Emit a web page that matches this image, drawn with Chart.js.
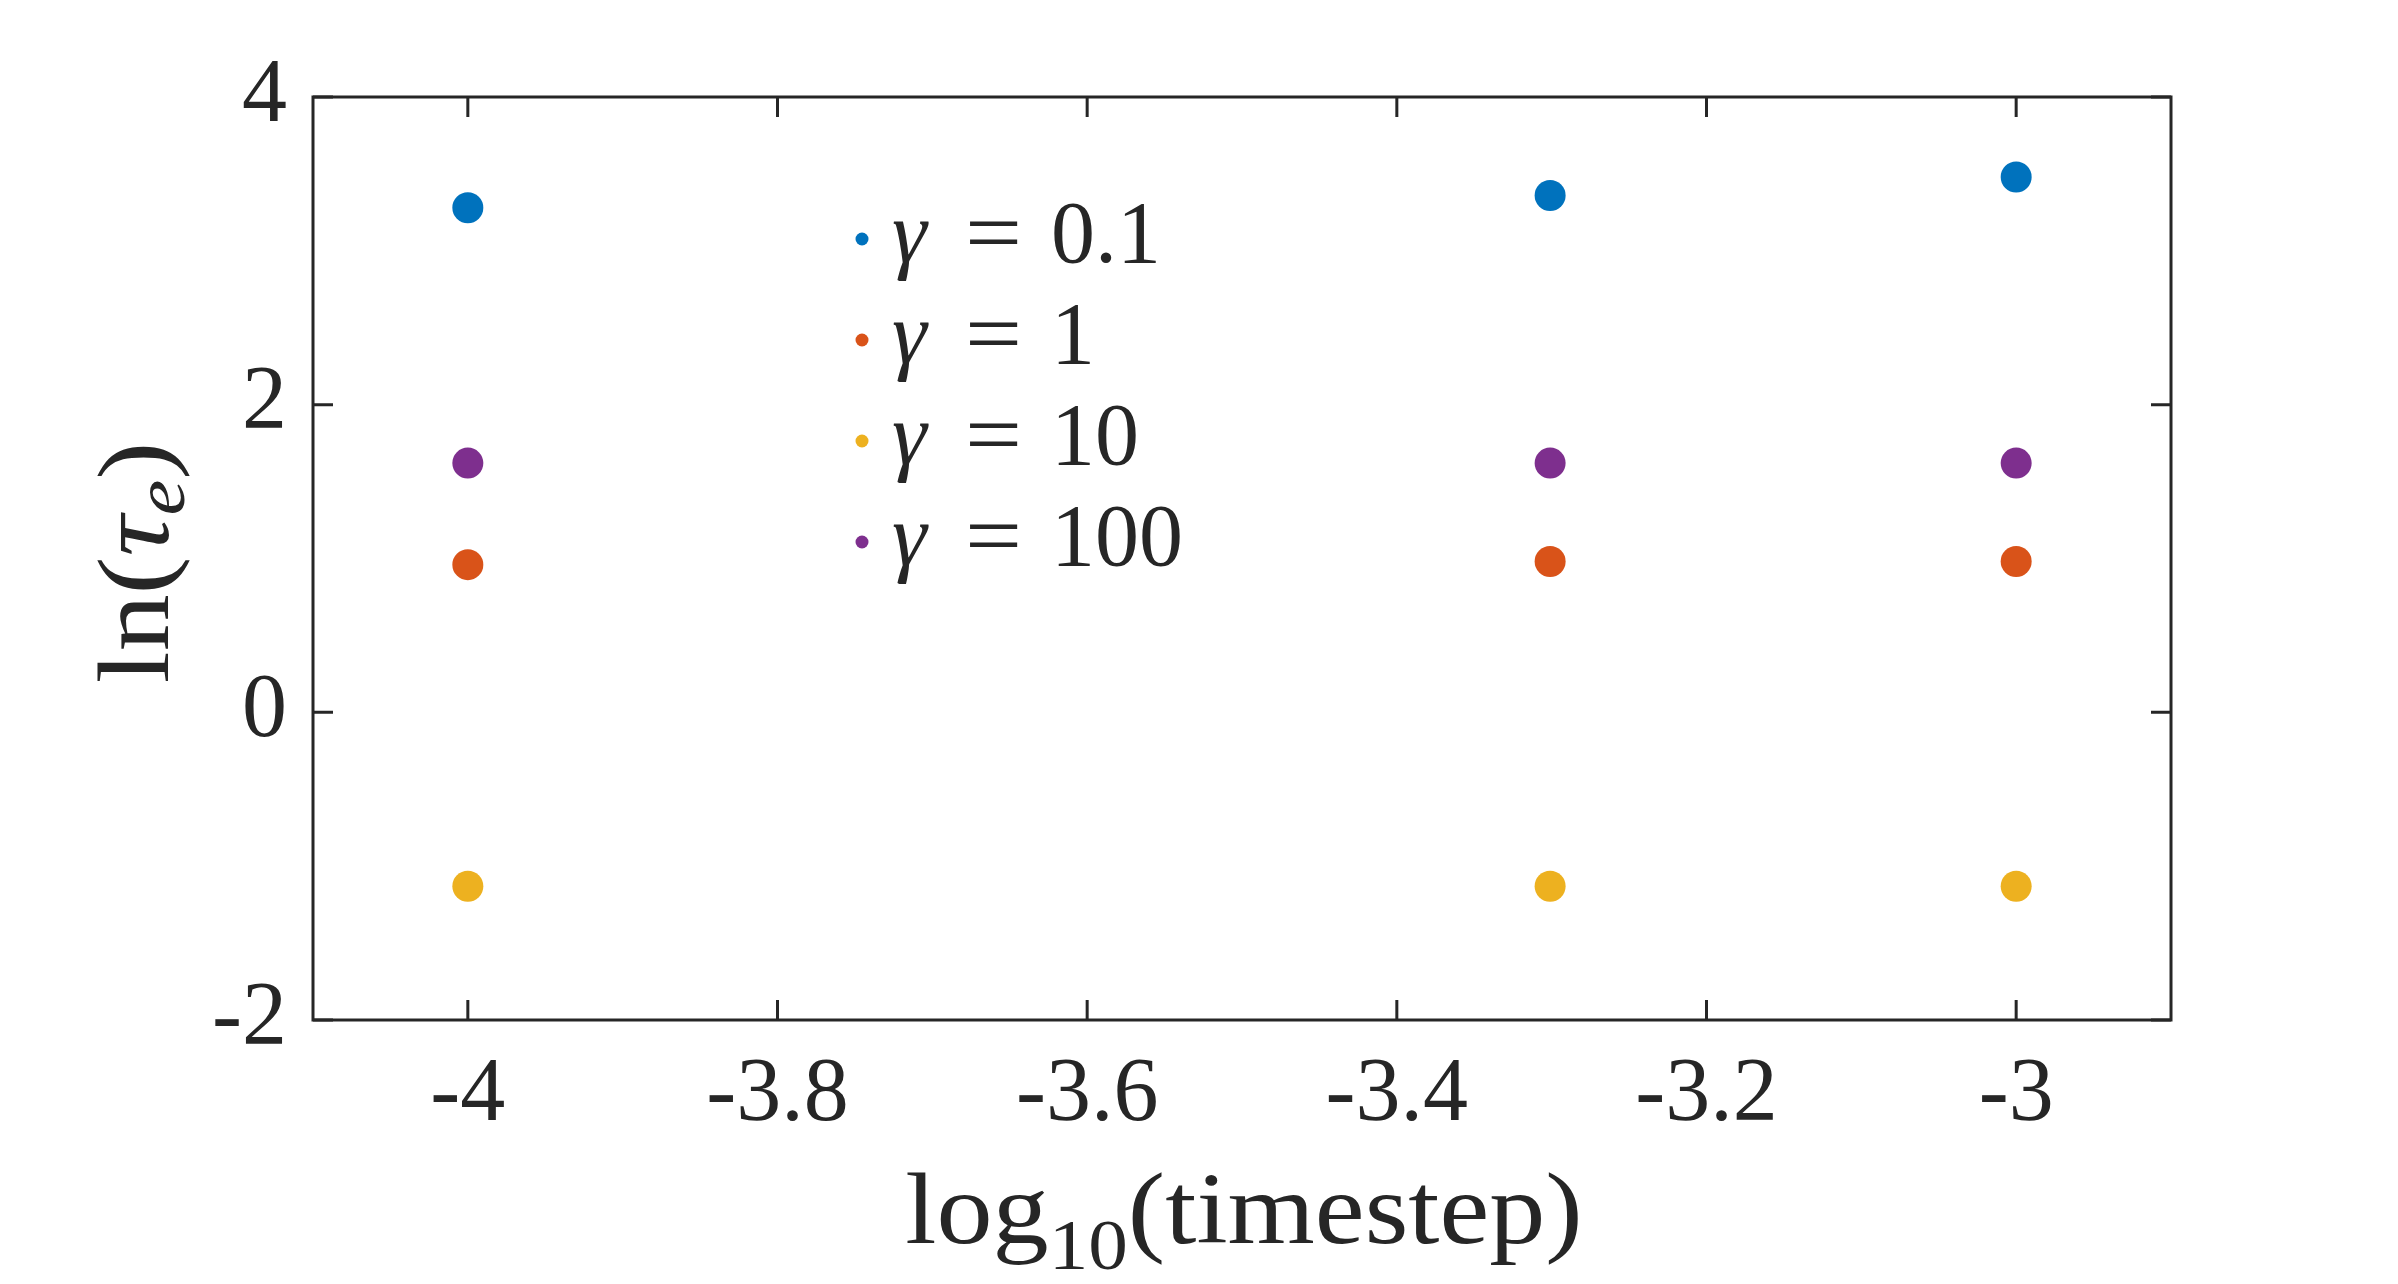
<!DOCTYPE html>
<html>
<head>
<meta charset="utf-8">
<script src="https://cdn.jsdelivr.net/npm/chart.js@4.4.1/dist/chart.umd.min.js"></script>
<style>
  html, body { margin: 0; padding: 0; background: #ffffff; }
  canvas { display: block; }
</style>
</head>
<body>
<canvas id="chart" width="2398" height="1284"></canvas>
<script>
// log10(timestep) values
const timesteps = [-4, -3.301, -3];

// ln(tau_e) per gamma
const gammaLabels = ['0.1', '1', '10', '100'];
const gamma01 = [3.28, 3.36, 3.48];
const gamma1 = [0.96, 0.98, 0.98];
const gamma10 = [-1.13, -1.13, -1.13];
const gamma100 = [1.62, 1.62, 1.62];

const xTicks = [-4, -3.8, -3.6, -3.4, -3.2, -3];
const yTicks = [-2, 0, 2, 4];

const colors = ['#0072BD', '#D95319', '#EDB120', '#7E2F8E'];
const axisColor = '#262626';
const serif = "'Liberation Serif', 'DejaVu Serif', serif";

const seriesValues = [gamma01, gamma1, gamma10, gamma100];

const datasets = seriesValues.map((vals, i) => ({
    label: 'γ = ' + gammaLabels[i],
    data: timesteps.map((x, j) => ({ x: x, y: vals[j] })),
    backgroundColor: colors[i],
    borderColor: colors[i],
    borderWidth: 0,
    pointRadius: 15.5,
    pointHoverRadius: 15.5,
}));

// draw a list of text pieces one after another, centred on cx
// (stretch widens the text a little, the reference font is wider)
function drawRuns(ctx, runs, cx, baseline, stretch) {
    let total = 0;
    runs.forEach((r) => {
        ctx.font = r.font;
        r.w = ctx.measureText(r.text).width;
        total += r.w;
    });
    ctx.save();
    ctx.translate(cx, baseline);
    ctx.scale(stretch || 1, 1);
    let x = -total / 2;
    runs.forEach((r) => {
        ctx.font = r.font;
        ctx.fillText(r.text, x, r.dy || 0);
        x += r.w;
    });
    ctx.restore();
}

const decorations = {
    id: 'decorations',
    afterDatasetsDraw(chart) {
        const ctx = chart.ctx;
        const area = chart.chartArea;
        const xs = chart.scales.x;
        const ys = chart.scales.y;
        ctx.save();

        // axes box
        ctx.strokeStyle = axisColor;
        ctx.lineWidth = 3;
        ctx.strokeRect(area.left, area.top, area.right - area.left, area.bottom - area.top);

        // inward ticks on all four sides
        const tl = 20;
        ctx.beginPath();
        xTicks.forEach((v) => {
            const px = xs.getPixelForValue(v);
            ctx.moveTo(px, area.bottom);
            ctx.lineTo(px, area.bottom - tl);
            ctx.moveTo(px, area.top);
            ctx.lineTo(px, area.top + tl);
        });
        yTicks.forEach((v) => {
            const py = ys.getPixelForValue(v);
            ctx.moveTo(area.left, py);
            ctx.lineTo(area.left + tl, py);
            ctx.moveTo(area.right, py);
            ctx.lineTo(area.right - tl, py);
        });
        ctx.stroke();

        ctx.fillStyle = axisColor;
        ctx.textAlign = 'left';
        ctx.textBaseline = 'alphabetic';

        // x title: log10(timestep)
        drawRuns(ctx, [
            { text: 'log', font: '102px ' + serif },
            { text: '10', font: '72px ' + serif, dy: 26 },
            { text: '(timestep)', font: '102px ' + serif },
        ], (area.left + area.right) / 2 + 2, 1243, 1.1);

        // y title: ln(tau_e), rotated
        ctx.save();
        ctx.translate(168, (area.top + area.bottom) / 2 + 4);
        ctx.rotate(-Math.PI / 2);
        drawRuns(ctx, [
            { text: 'ln(', font: '102px ' + serif },
            { text: 'τ', font: 'italic 102px ' + serif },
            { text: 'e', font: 'italic 72px ' + serif, dy: 16 },
            { text: ')', font: '102px ' + serif },
        ], 0, 0, 1.12);
        ctx.restore();

        // legend inside the axes
        const lx = 862;
        const ly = 239;
        const rowGap = 101;
        chart.data.datasets.forEach((ds, i) => {
            const y = ly + i * rowGap;
            ctx.fillStyle = ds.backgroundColor;
            ctx.beginPath();
            ctx.arc(lx, y, 6.5, 0, Math.PI * 2);
            ctx.fill();
            ctx.fillStyle = axisColor;
            ctx.font = 'italic 88px ' + serif;
            ctx.fillText('γ', lx + 30, y + 23);
            ctx.font = '88px ' + serif;
            ctx.save();
            ctx.translate(lx + 103, y + 23);
            ctx.scale(1.15, 1);
            ctx.fillText('=', 0, 0);
            ctx.restore();
            ctx.fillText(gammaLabels[i], lx + 189, y + 23);
        });

        ctx.restore();
    },
};

const tickFont = { family: serif, size: 90 };

new Chart(document.getElementById('chart').getContext('2d'), {
    type: 'scatter',
    data: { datasets: datasets },
    options: {
        responsive: false,
        animation: false,
        events: [],
        layout: { padding: { top: 97, right: 227, left: 0, bottom: 0 } },
        plugins: {
            legend: { display: false },
            tooltip: { enabled: false },
        },
        scales: {
            x: {
                type: 'linear',
                min: -4.1,
                max: -2.9,
                afterBuildTicks: (s) => { s.ticks = xTicks.map((v) => ({ value: v })); },
                afterFit: (s) => { s.height = 264; },
                grid: { display: false, drawTicks: false },
                border: { display: false },
                ticks: {
                    color: axisColor,
                    font: tickFont,
                    padding: 22,
                    maxRotation: 0,
                    autoSkip: false,
                    callback: (v) => String(v),
                },
            },
            y: {
                type: 'linear',
                min: -2,
                max: 4,
                afterBuildTicks: (s) => { s.ticks = yTicks.map((v) => ({ value: v })); },
                afterFit: (s) => { s.width = 313; },
                grid: { display: false, drawTicks: false },
                border: { display: false },
                ticks: {
                    color: axisColor,
                    font: tickFont,
                    padding: 26,
                    callback: (v) => String(v),
                },
            },
        },
    },
    plugins: [decorations],
});
</script>
</body>
</html>
